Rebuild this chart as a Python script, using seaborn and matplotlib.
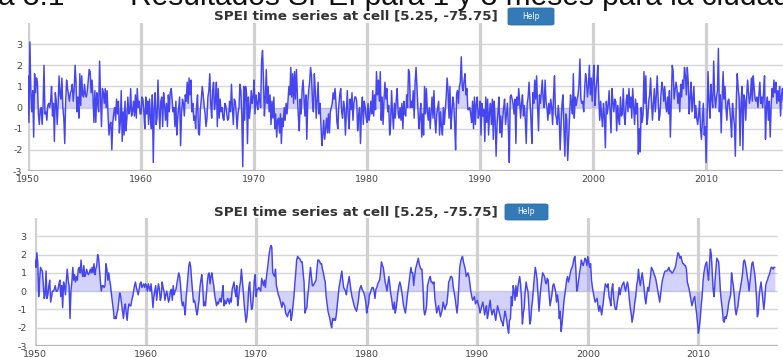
import numpy as np
import pandas as pd
import matplotlib
matplotlib.use("Agg")
import matplotlib.pyplot as plt
from matplotlib.patches import FancyBboxPatch
import seaborn as sns

sns.set_style("white")
plt.rcParams["font.family"] = ["DejaVu Sans"]
plt.rcParams["axes.unicode_minus"] = False

# SPEI, 1-month scale, one row per year (Jan..Dec)
spei1_1950s = [
    1.5, -0.7, 3.1, 0.8, -0.2, 0.8, -1.4, 1.6, 0.7, 1.4, 1.2, -0.3,
    -0.8, -0.1, 0.0, -0.8, 0.1, 2.0, -0.3, -0.2, -0.6, 0.1, 0.2, 0.0,
    0.3, 1.0, -0.4, 0.2, -1.6, 0.7, 0.3, -0.8, 0.2, 1.5, 0.6, 0.4,
    1.4, 0.0, -0.5, -1.7, 0.3, 1.3, 0.9, 0.6, 0.3, 0.7, 0.8, 1.1,
    0.3, 0.8, 2.0, 1.2, -0.2, 0.5, -0.5, 1.6, 0.1, 1.5, 0.6, 0.5,
    1.1, 0.6, 0.5, 0.8, 1.3, 1.8, 1.7, 0.7, 1.3, 0.5, -0.7, 0.8,
    -0.7, 0.7, 0.2, -0.2, 2.2, 0.5, -0.9, 0.9, 0.7, 0.2, 0.9, 0.0,
    0.8, -0.4, -1.3, -0.8, -0.7, -2.0, -0.7, -0.3, 0.0, -0.6, 0.4, -0.3,
    0.3, -1.2, -0.7, 0.8, -1.6, -0.2, -1.3, 0.3, -1.1, -0.5, 0.5, -0.3,
    -0.2, 0.9, -0.4, -0.2, 0.3, -0.4, 0.6, -0.5, 0.9, 0.0, 0.3, -0.3,
]
spei1_1960s = [
    -0.3, 0.5, 0.4, -0.2, -1.0, 0.5, -0.3, 0.3, -0.8, 0.4, -0.5, -1.0,
    0.6, -2.6, 0.0, 0.7, -0.8, -0.5, 1.3, -0.1, -1.0, 0.3, 0.5, -0.9,
    0.7, 0.1, -0.6, 0.2, -0.9, 0.6, -0.2, 0.7, 0.9, 0.4, -0.2, 0.0,
    -0.9, 0.3, -1.3, -0.5, 0.0, 0.5, -1.8, -0.3, 0.4, 0.2, -0.4, 0.6,
    0.3, 1.2, 0.2, 1.4, 0.6, 1.3, -0.2, 0.2, -0.6, -0.4, -1.0, 0.1,
    0.6, -1.2, -1.3, -0.1, 0.4, 1.0, 0.6, 0.1, -0.3, -0.9, -0.5, 0.5,
    0.8, 1.6, 0.2, -0.5, 0.8, 1.2, -0.1, 0.3, 1.2, -0.9, 0.9, -0.5,
    0.4, -0.2, 0.0, -0.5, -0.6, 0.2, 0.1, -0.3, -0.6, -0.5, 0.3, -0.2,
    1.1, 0.0, -0.8, 0.4, 0.3, -0.2, -1.0, -0.3, 0.0, 1.1, 0.8, -0.4,
    -2.8, 1.0, -0.6, 1.0, 0.7, -1.7, 0.5, -0.5, 0.0, 0.8, 0.2, 0.5,
]
spei1_1970s = [
    1.3, -0.3, 0.6, 0.2, -0.1, 0.7, 0.3, 0.0, 2.2, 2.7, 1.3, -0.4,
    0.5, 1.8, 0.2, 1.0, -0.2, 0.6, -0.8, 0.3, -0.5, 0.5, -1.0, -0.3,
    -1.4, -0.6, -0.5, -1.2, -0.3, -1.7, -0.5, -0.9, 0.0, -0.6, 0.2, -0.3,
    0.3, 1.0, 0.6, 1.9, 0.5, 1.6, 0.2, 1.7, 0.4, 1.8, 0.6, -0.4,
    -1.1, 0.4, -0.3, 0.8, 1.3, 0.5, -0.4, 0.6, -1.5, 0.2, 0.8, 1.2,
    1.9, 1.5, 0.3, -0.2, 1.6, 0.8, -0.5, 0.4, 1.2, -0.3, 0.2, -0.8,
    -1.8, -1.3, -0.6, -1.5, -1.0, -0.5, -1.2, -0.3, -1.2, -0.2, 0.0, 0.2,
    0.7, 0.4, 0.9, 0.2, -0.7, -1.0, 0.1, 0.6, 0.9, -0.2, -0.5, 0.3,
    0.0, -1.3, -0.2, 0.8, -0.4, -1.0, 0.4, -0.1, 0.7, -0.6, 0.2, 0.5,
    0.5, 0.3, -1.1, -0.4, 0.0, -1.7, -0.2, 0.5, -0.8, 0.3, 0.0, -0.5,
]
spei1_1980s = [
    -0.7, 0.2, -0.6, -0.3, 0.3, -0.3, 0.8, -0.4, 0.6, -0.1, 1.7, 0.6,
    1.3, 0.3, 1.7, -0.6, 0.5, -0.8, 0.4, 1.2, 0.4, 0.9, -0.2, 0.1,
    -1.3, -0.8, 0.8, -0.3, -1.0, 0.2, -0.5, 0.4, 0.9, -0.3, -0.5, 0.0,
    -0.6, 0.2, -1.0, 0.3, -0.3, -0.4, 0.6, 0.0, 1.8, 1.6, 0.0, 0.3,
    0.0, 0.8, -0.5, 1.2, 1.9, 0.9, 0.0, -1.0, -0.5, 0.2, -1.4, -0.3,
    -1.3, 1.0, -0.3, 0.9, -0.2, -0.6, 0.0, -1.0, -0.2, 0.5, -0.5, 0.8,
    -0.6, -1.2, -0.3, 0.0, 0.3, -1.3, -0.2, -0.9, -1.3, 0.0, -0.8, -0.1,
    0.5, 1.4, 0.8, -0.5, 1.0, -1.0, -0.3, 0.5, 0.2, -0.8, -2.0, 0.6,
    0.8, 0.2, 1.0, 1.2, 2.4, 1.0, 0.8, 1.3, 1.6, 0.6, 0.9, -0.1,
    -0.1, 0.0, -0.3, -0.7, 0.3, -1.0, 0.5, -0.8, 0.2, 0.5, -0.5, -0.3,
]
spei1_1990s = [
    0.3, -1.3, 0.2, -0.4, -0.1, -1.6, 0.5, -0.7, 0.4, -1.3, -0.2, 0.2,
    -0.8, 0.4, -1.5, 0.3, -0.6, -2.3, -0.8, -0.2, 0.5, -1.2, -0.4, -1.4,
    -0.5, 0.0, 0.4, -0.8, -0.3, 0.2, -1.0, -2.6, 0.5, 0.6, 0.4, 0.2,
    -0.3, 0.4, -1.7, 0.5, 0.1, 0.9, 0.3, -0.5, 0.2, 0.6, -0.4, 0.1,
    -0.6, -1.7, 0.2, 0.5, 1.2, 0.3, -0.6, -1.7, 0.7, 0.2, 1.3, 0.4,
    1.5, 0.1, -1.1, 0.6, 0.2, 0.7, 1.3, 0.4, 0.0, 1.3, 0.3, 0.0,
    -0.6, 0.2, -0.3, 0.4, 0.0, -0.8, 0.6, 1.5, -0.3, -0.5, -0.8, 0.1,
    -0.5, -2.0, -0.8, 0.2, 0.6, -1.0, -2.3, -0.3, -0.6, -2.5, -1.5, -0.4,
    0.6, 0.2, -0.3, 1.6, -0.5, 0.5, 0.1, 0.4, 0.6, 1.1, 2.3, 0.4,
    0.2, 0.3, -0.2, 0.9, 1.6, 1.3, 0.5, 1.0, 2.0, 0.6, 1.4, 0.3,
]
spei1_2000s = [
    1.4, 2.0, 0.1, 0.8, 1.3, 2.0, 0.5, -0.6, 0.3, -0.4, -0.9, 0.2,
    -0.4, -1.9, 0.3, -0.3, 0.1, 0.8, -0.2, -1.2, 0.9, 0.3, -0.2, 0.4,
    0.3, -1.1, 0.1, -0.5, -0.8, 0.5, -0.4, -0.3, 0.9, -0.4, -0.8, 0.3,
    0.6, -0.2, 0.9, 0.0, 0.5, -0.5, 0.9, 0.0, -0.8, 0.4, -0.3, 0.2,
    -2.2, -1.0, -2.1, 0.0, -0.7, -0.3, 1.7, 0.2, 1.5, -0.8, -0.5, 0.3,
    0.6, 1.4, 0.3, -0.6, 0.2, 0.9, -0.2, 0.5, 1.5, 0.5, -0.6, -0.3,
    0.6, 1.2, 0.9, 0.3, 1.0, 0.2, -0.2, 0.5, -0.3, 0.8, -1.4, 0.4,
    2.0, 1.7, 0.4, 0.8, 1.2, 0.9, 0.2, 0.7, -0.2, 1.1, 0.5, 1.3,
    0.9, 1.9, 1.5, 0.6, 1.9, 1.2, -0.3, 0.5, 1.2, -0.2, 0.4, 1.0,
    -0.5, 0.1, -0.5, -0.8, -0.4, 0.3, -1.0, -1.5, -0.6, 0.2, -1.3, -0.9,
]
spei1_2010s = [
    -2.6, -0.5, 1.7, 0.3, -0.5, 1.1, 0.4, 0.0, 2.2, 0.6, 0.0, 0.5,
    0.8, 2.8, -0.2, 0.6, -1.2, 0.5, 1.7, 0.4, 1.0, 0.0, -0.6, 0.3,
    0.4, 0.0, -0.6, -1.4, 0.2, -0.4, -0.8, -2.3, 0.3, 1.6, 0.9, 0.5,
    -1.8, 0.2, 1.0, -2.0, 0.6, 0.4, -0.6, 0.5, 1.3, 0.7, 0.2, 0.5,
    1.4, 0.3, 1.5, 0.9, 0.4, 0.3, 0.5, 0.0, 0.6, 1.2, 0.2, 0.5,
    0.0, 0.8, 1.5, -1.5, 0.0, 0.5, -0.6, 0.3, -1.4, 0.1, 0.9, 0.5,
    1.3, 0.7, 1.2, 0.2, 0.8, 0.3, 1.0, -0.4, 0.6, 0.9, 0.3, 0.5,
]

# SPEI, 3-month scale, one row per year (Jan..Dec)
spei3_1950s = [
    1.7, 1.3, 2.1, 1.6, -0.3, 0.6, 1.3, 1.2, 1.1, 0.4, -0.4, -0.2,
    1.1, -0.4, -0.2, 0.3, 0.6, -0.6, -0.3, 0.0, 0.0, 0.1, 0.3, 0.0,
    0.0, 0.1, 0.4, 0.6, -0.3, 0.3, -0.9, 0.5, 0.3, -0.2, 0.6, 1.2,
    0.6, 0.3, -1.5, 0.0, 0.5, 1.3, 0.6, 0.9, 0.5, 0.8, 0.6, 1.2,
    1.3, 1.0, 1.7, 1.0, 0.8, 1.4, 0.8, 0.9, 1.2, 1.0, 0.9, 1.0,
    1.2, 1.0, 1.3, 1.0, 1.5, 0.9, 1.2, 1.4, 2.0, 1.8, 1.2, 0.5,
    0.0, 0.3, 0.3, 0.2, 0.3, 1.5, 1.2, 0.6, 1.0, 0.6, 0.3, -0.2,
    -0.6, -1.0, -1.5, -1.4, -1.5, -1.2, -1.0, -0.5, -0.1, -0.3, -0.7, -1.1,
    -1.5, -0.9, -0.7, -1.2, -1.6, -1.0, -0.7, -0.8, -0.8, -0.5, -0.3, 0.0,
    0.3, 0.5, 0.2, 0.0, -0.2, 0.1, 0.4, 0.5, 0.2, 0.3, 0.4, 0.2,
]
spei3_1960s = [
    0.4, 0.3, 0.0, 0.4, 0.2, 0.0, 0.4, -0.2, -0.9, -0.3, 0.0, 0.3,
    -0.5, 0.0, 0.4, 0.1, -0.5, -0.3, 0.5, 0.2, 0.0, -0.5, -0.2, 0.0,
    -0.3, -0.6, -0.4, 0.0, 0.1, -0.5, 0.3, -0.2, 0.0, 0.1, 0.4, 0.7,
    1.0, 0.8, 0.3, -0.5, -0.8, -0.6, -0.9, -1.3, -0.4, 0.2, 0.8, 1.4,
    1.6, 1.3, 0.6, 0.0, -0.6, -0.5, -0.7, -1.1, -1.3, -0.9, -0.5, 0.2,
    0.6, 0.9, 0.3, -0.8, -0.6, -0.8, -0.2, 0.5, 0.9, 1.0, 0.4, 0.8,
    1.0, 0.6, 0.3, -0.2, -0.5, -0.8, -0.6, -0.7, -0.5, -0.4, -0.6, -0.2,
    0.3, -0.8, -0.5, -0.7, -0.6, -0.4, -0.5, -0.7, -0.4, -0.6, 0.1, 0.3,
    0.5, 0.0, -0.3, 0.3, -0.8, -0.4, 0.2, 0.5, 1.2, 0.6, 0.0, -0.7,
    -1.2, -1.7, -1.4, -0.8, 0.2, 0.5, -0.5, -1.0, -0.9, -0.3, 0.6, 0.9,
]
spei3_1970s = [
    -0.3, 0.1, 0.1, 0.2, 0.1, 0.0, 0.7, 0.5, 0.3, 0.6, 0.2, 0.7,
    1.1, 1.5, 2.0, 2.3, 2.5, 2.4, 1.0, 0.9, 0.8, 1.2, 0.3, 0.1,
    -0.2, -0.3, -0.5, -0.7, -0.9, -0.6, -0.7, -0.8, -1.2, -1.3, -1.4, -1.2,
    -1.1, -1.0, -1.6, -1.3, -0.8, -0.3, 0.4, 1.0, 1.7, 1.9, 1.8, 1.8,
    1.7, 1.6, 1.6, 1.0, 0.5, -1.2, -1.0, -0.9, -0.3, 0.2, 0.8, 1.3,
    0.8, 0.3, 0.3, 0.4, 0.5, 0.6, 1.2, 1.7, 1.7, 1.6, 1.5, 1.5,
    1.2, 1.0, 0.7, 0.5, -0.3, -0.7, -1.1, -1.3, -1.5, -1.8, -2.0, -1.5,
    -1.6, -1.5, -1.6, -1.3, -0.8, -0.3, 0.2, 0.5, 0.8, 1.1, 0.6, 0.2,
    0.1, 0.0, -0.2, 0.3, 0.5, 0.8, 0.4, 0.0, -0.3, -0.5, -0.7, -0.9,
    -1.0, -1.1, -0.8, -0.5, 0.0, 0.2, 0.3, 0.1, 0.0, -0.1, -0.3, -0.6,
]
spei3_1980s = [
    -1.2, -0.9, -0.7, -0.2, -0.1, 0.1, 0.2, 0.2, 0.0, -0.4, 0.1, 0.2,
    0.4, 0.5, 0.6, 1.0, 1.6, 1.4, 1.3, 0.9, 0.5, 0.3, 0.0, 0.4,
    0.8, 0.4, -0.1, -0.4, -0.8, -1.0, -0.6, -1.2, -0.9, -0.5, 0.0, 0.3,
    0.5, 0.3, 0.0, -0.4, -0.8, -1.0, -1.2, -0.8, -0.3, 0.1, 0.5, 0.9,
    1.3, 1.0, 1.0, 0.3, 0.8, 1.2, 1.4, 1.6, 1.8, 1.5, 1.3, 1.2,
    1.2, 0.3, -1.0, -1.3, -1.1, -0.8, 0.3, 0.5, 0.7, 0.8, 0.5, 0.5,
    0.4, 0.5, -0.4, -0.8, -1.2, -1.0, -0.8, -1.1, -1.4, -1.2, -1.0, -0.6,
    -0.8, -1.0, -0.8, -0.7, -0.2, 0.5, 0.6, 0.8, 0.8, 0.7, 0.2, -0.1,
    -0.4, -0.8, -1.2, -0.7, 0.3, 1.3, 1.6, 1.8, 1.9, 1.6, 1.4, 1.2,
    0.8, 0.9, 1.0, 0.8, 0.4, 0.0, -0.3, -0.5, -0.4, -0.3, -0.7, -0.6,
]
spei3_1990s = [
    -0.5, -0.7, -0.9, -1.2, -1.0, -0.8, -0.6, -0.9, -1.3, -1.0, -0.8, -1.5,
    -1.2, -0.8, -0.5, -1.0, -1.3, -1.1, -1.0, -1.3, -1.6, -1.2, -0.8, -1.0,
    -1.2, -1.4, -1.6, -1.7, -1.9, -1.5, -1.1, -1.3, -1.6, -2.0, -2.3, -1.6,
    -1.5, -0.3, -0.8, 0.3, 0.0, -0.5, 0.3, -0.3, 0.2, 0.5, 0.8, 0.4,
    -0.5, -1.8, -1.2, -0.9, 0.0, 0.5, 0.2, 0.0, -0.8, -1.8, -1.6, -0.9,
    -0.5, 0.2, 0.8, 1.3, 1.0, 0.6, -0.3, -1.1, -0.4, 0.2, 0.6, 1.0,
    0.9, 0.8, 0.5, 0.4, 0.7, 0.6, -0.2, -0.8, -0.5, -0.2, 0.3, 0.4,
    0.2, 0.0, -0.6, -0.2, -0.6, -1.5, -1.1, -2.2, -1.8, -1.2, -0.6, -0.2,
    0.2, 0.6, 0.8, 0.5, 0.7, 1.0, 1.2, 1.3, 1.5, 1.8, 1.9, 1.2,
    0.0, 0.2, 0.6, 1.0, 1.3, 1.7, 1.5, 1.4, 1.6, 1.8, 1.7, 1.4,
]
spei3_2000s = [
    1.9, 1.6, 1.3, 1.5, 0.6, 0.2, -0.1, -0.4, -0.6, -0.5, -0.4, -0.8,
    -1.1, -0.8, -1.0, -1.3, -0.9, -0.5, 0.0, 0.4, 0.3, 0.2, 0.4, -0.3,
    -0.5, -0.8, 0.1, 0.4, -0.4, -0.8, -1.0, -1.0, -0.6, -0.3, 0.2, -0.2,
    0.1, 0.3, 0.4, 0.5, 0.2, 0.0, 0.3, 0.5, 0.2, -0.4, -0.9, -1.2,
    -1.7, -1.4, -1.1, -0.6, -0.3, 0.3, 0.6, 1.2, 0.6, 0.3, 0.7, 1.0,
    0.6, 0.2, -0.4, -0.7, -0.2, 0.2, 0.0, 0.4, 0.8, 1.3, 1.2, 1.1,
    0.9, 0.8, 0.6, 0.3, 0.0, -0.3, -0.6, -0.2, 0.3, 0.6, 0.8, 1.0,
    1.1, 1.1, 1.1, 1.2, 1.3, 1.1, 1.1, 1.0, 1.0, 1.1, 1.2, 1.3,
    1.6, 1.9, 2.1, 2.0, 1.8, 1.9, 1.7, 1.5, 1.5, 1.4, 1.4, 1.2,
    0.5, 0.3, 0.1, -0.2, -0.5, -0.8, -0.6, -0.4, -0.3, -0.8, -1.2, -1.7,
]
spei3_2010s = [
    -2.3, -2.0, -1.5, -0.8, -0.3, 0.5, 1.0, 1.3, 1.5, 1.6, 1.0, 0.6,
    1.5, 2.3, 2.0, 1.0, 0.1, -0.3, 0.5, 1.2, 1.8, 1.7, 1.6, 0.8,
    -0.1, -0.6, -1.0, -1.6, -1.7, -1.4, -1.5, -1.3, -1.0, -0.6, -0.4, -0.2,
    1.0, 0.6, 0.3, -0.3, -1.0, -1.3, -1.0, -0.8, -0.3, 0.0, 0.3, 0.6,
    1.0, 1.6, 1.7, 1.5, 1.2, 0.8, 0.5, 0.0, 0.5, 1.0, 1.5, 1.6,
    1.3, 1.0, 0.5, -0.3, -1.4, -1.2, -0.3, 0.2, 0.5, 0.0, -0.5, -1.0,
    -0.5, 0.3, 0.5, 0.6, 0.8, 0.9, 1.1, 1.3, 1.3, 1.2, 1.3, 1.3,
]

title_text = "SPEI time series at cell [5.25, -75.75]"
button_text = "Help"
caption_label = "a 3.1"
caption_text = "Resultados SPEI para 1 y 3 meses para la ciudad"
decade_ticks = [1950, 1960, 1970, 1980, 1990, 2000, 2010]
value_ticks = [-3, -2, -1, 0, 1, 2, 3]

W, H = 783, 357
fig = plt.figure(figsize=(W / 100, H / 100), dpi=100)


def to_fig(x, y):
    return x / W, 1 - y / H


def series_frame(values, start=1950):
    t = start + np.arange(len(values)) / 12.0
    return pd.DataFrame({"year": t, "spei": values})


def draw_panel(rect_px, values, xmax, title_y, btn_px, ypad):
    left, top, right, bottom = rect_px
    ax = fig.add_axes([left / W, 1 - bottom / H, (right - left) / W, (bottom - top) / H])
    df = series_frame(values)
    ax.set_xlim(1950, xmax)
    ax.set_ylim(-3, 4)
    for v in value_ticks[1:]:
        ax.axhline(v, color="#d6d6d6", lw=1.0, zorder=0)
    for d in decade_ticks:
        ax.axvline(d, color="#d0d0d0", lw=2.3, zorder=0)
    ax.fill_between(df["year"], df["spei"], 0, color="#6a6af2", alpha=0.3, lw=0, zorder=1)
    sns.lineplot(data=df, x="year", y="spei", ax=ax, color="#4646f0", lw=1.05, zorder=2)
    ax.axhline(-3, color="#b5b5b5", lw=1.6, zorder=3)
    for s in ax.spines.values():
        s.set_visible(False)
    ax.set_xticks(decade_ticks)
    ax.set_yticks(value_ticks)
    ax.tick_params(axis="both", length=0, labelsize=6.8, labelcolor="#444444")
    ax.tick_params(axis="y", pad=ypad)
    ax.tick_params(axis="x", pad=3)
    ax.set_xlabel("")
    ax.set_ylabel("")

    tx, ty = to_fig(356, title_y)
    fig.text(tx, ty, title_text, ha="center", va="center", fontsize=9.7,
             fontweight="bold", color="#333333")
    bx0, by0, bx1, by1 = btn_px
    fx0, fy1 = to_fig(bx0, by0)
    fx1, fy0 = to_fig(bx1, by1)
    fig.add_artist(FancyBboxPatch((fx0, fy0), fx1 - fx0, fy1 - fy0,
                                  boxstyle="round,pad=0,rounding_size=0.004",
                                  transform=fig.transFigure, facecolor="#337ab7",
                                  edgecolor="#2e6da4", lw=0.6))
    fig.text((fx0 + fx1) / 2, (fy0 + fy1) / 2, button_text, ha="center", va="center",
             fontsize=5.5, color="white")
    return ax


spei1 = (spei1_1950s + spei1_1960s + spei1_1970s + spei1_1980s
         + spei1_1990s + spei1_2000s + spei1_2010s)
spei3 = (spei3_1950s + spei3_1960s + spei3_1970s + spei3_1980s
         + spei3_1990s + spei3_2000s + spei3_2010s)

draw_panel((28, 23, 783, 171), spei1, 2016.8, 16.5, (508, 8, 554, 25), 4)
draw_panel((35, 218, 778, 346), spei3, 2017.2, 212, (505, 204, 548, 220), 6)

# Document caption above the figure, mostly cropped by the top edge
lx, ly = to_fig(-2, 5)
fig.text(lx, ly, caption_label, ha="left", va="baseline", fontsize=21.5,
         color="#111111", family="Liberation Sans")
rx, ry = to_fig(130, 5)
fig.text(rx, ry, caption_text, ha="left", va="baseline", fontsize=21.5,
         color="#111111", family="Liberation Sans")

fig.savefig("out.png", dpi=100)
